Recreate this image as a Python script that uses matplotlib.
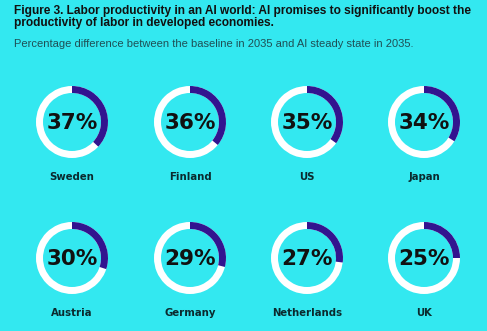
import matplotlib
matplotlib.use("Agg")
import matplotlib.pyplot as plt
from matplotlib.patches import Wedge

# data
countries = ["Sweden", "Finland", "US", "Japan",
             "Austria", "Germany", "Netherlands", "UK"]
values = [37, 36, 35, 34, 30, 29, 27, 25]

title = ("Figure 3. Labor productivity in an AI world: AI promises to significantly boost the\n"
         "productivity of labor in developed economies.")
subtitle = "Percentage difference between the baseline in 2035 and AI steady state in 2035."

bg = "#33E8F0"
arc_color = "#32148F"
text_dark = "#0B2A2E"

W, H = 487, 331
fig = plt.figure(figsize=(W / 100, H / 100), dpi=100, facecolor=bg)
ax = fig.add_axes([0, 0, 1, 1])
ax.set_xlim(0, W)
ax.set_ylim(H, 0)
ax.set_aspect("equal")
ax.axis("off")

fig.text(14 / W, 1 - 5 / H, title, ha="left", va="top", fontsize=8.6,
         fontweight="bold", family="Liberation Sans", color="#111",
         linespacing=1.05)
fig.text(14 / W, 1 - 39 / H, subtitle, ha="left", va="top", fontsize=8.0,
         family="Liberation Sans", color="#1f4f55")

col_x = [72, 190, 307, 424]
row_y = [122, 258]
label_y = [177, 313]
r_out, width = 36, 7

for i, (name, val) in enumerate(zip(countries, values)):
    cx = col_x[i % 4]
    cy = row_y[i // 4]
    # white track
    ax.add_patch(Wedge((cx, cy), r_out, 0, 360, width=width,
                       facecolor="white", edgecolor="none"))
    # value arc, clockwise from the top (y axis is inverted)
    ax.add_patch(Wedge((cx, cy), r_out, -90, -90 + 360 * val / 100,
                       width=width, facecolor=arc_color, edgecolor="none"))
    ax.text(cx, cy + 1, f"{val}%", ha="center", va="center", fontsize=15.5,
            fontweight="heavy", color="#111")
    ax.text(cx, label_y[i // 4], name, ha="center", va="center", fontsize=7.3,
            fontweight="bold", color=text_dark)

fig.savefig("out.png", dpi=100, facecolor=bg)
